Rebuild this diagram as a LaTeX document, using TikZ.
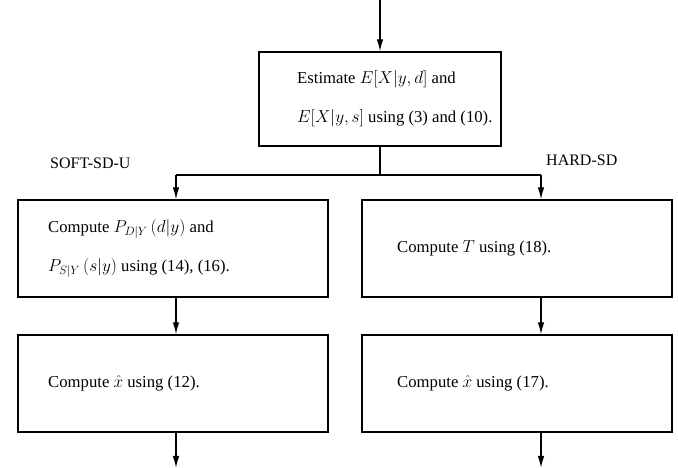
\documentclass[tikz,border=0pt]{standalone}
\usepackage[no-math]{fontspec}
\setmainfont{Liberation Serif}
\usetikzlibrary{arrows.meta}
\begin{document}
\begin{tikzpicture}[x=1pt,y=1pt,
  box/.style={draw,line width=1.3pt,minimum width=#1,minimum height=97pt,inner sep=0pt},
  box/.default=310pt,
  txt/.style={anchor=west,align=left,inner sep=0pt,font=\fontsize{16.7}{39}\selectfont},
  lbl/.style={inner sep=0pt,font=\fontsize{16}{18}\selectfont},
  arr/.style={line width=1.3pt,-{Latex[length=12pt,width=6.5pt]}},
  ln/.style={line width=1.3pt}]
\useasboundingbox (0,0) rectangle (678,468);
\coordinate (top) at (380,468);
\node[box=242pt,minimum height=94pt] (b0) at (380,369) {};
\node[txt] (t0) at (297,369) {Estimate $E[X|y,d]$ and\\$E[X|y,s]$ using (3) and (10).};
\coordinate (split) at (380,293);
\coordinate (sl) at (176,293);
\coordinate (sr) at (541,293);
\node[box] (b1) at (173,219.5) {};
\node[box] (b2) at (517,219.5) {};
\node[box] (b3) at (173,84.5) {};
\node[box] (b4) at (517,84.5) {};
\node[txt] (t1) at (48,219.5) {Compute $P_{D|Y}\,(d|y)$ and\\$P_{S|Y}\,(s|y)$ using (14), (16).};
\node[txt] (t2) at (397,219.5) {Compute $T$ using (18).};
\node[txt] (t3) at (48,84.5) {Compute $\hat{x}$ using (12).};
\node[txt] (t4) at (397,84.5) {Compute $\hat{x}$ using (17).};
\node[lbl,anchor=west] (l1) at (50,305) {SOFT-SD-U};
\node[lbl,anchor=west] (l2) at (546,308) {HARD-SD};
\coordinate (e1) at (176,0);
\coordinate (e2) at (541,0);
\draw[arr] (top) -- (b0.north);
\draw[ln] (b0.south) -- (split);
\draw[ln] (sl) -- (sr);
\draw[arr] (sl) -- (sl |- b1.north);
\draw[arr] (sr) -- (sr |- b2.north);
\draw[arr] (b1.south -| sl) -- (sl |- b3.north);
\draw[arr] (b2.south -| sr) -- (sr |- b4.north);
\draw[arr] (b3.south -| sl) -- (e1);
\draw[arr] (b4.south -| sr) -- (e2);
\end{tikzpicture}
\end{document}
